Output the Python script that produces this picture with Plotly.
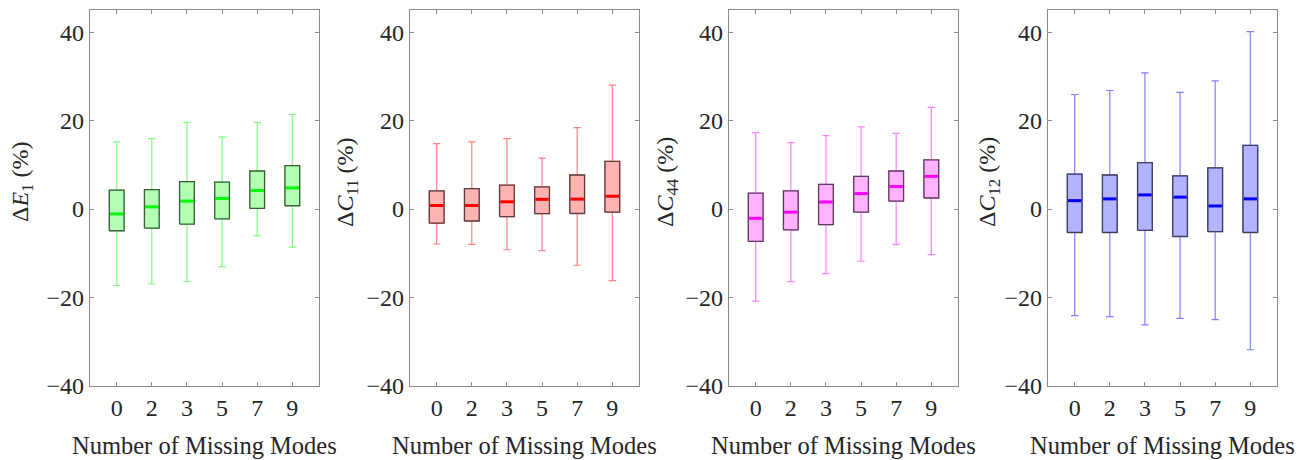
import plotly.graph_objects as go

# ---------------- data ----------------
modes = ["0", "2", "3", "5", "7", "9"]
positions = [1, 2, 3, 4, 5, 6]

e1_low = [-17.3, -16.9, -16.4, -13.0, -6.0, -8.6]
e1_q1 = [-4.9, -4.3, -3.4, -2.2, 0.15, 0.75]
e1_med = [-1.1, 0.5, 1.8, 2.4, 4.2, 4.8]
e1_q3 = [4.3, 4.4, 6.2, 6.1, 8.6, 9.8]
e1_up = [15.2, 15.9, 19.6, 16.3, 19.6, 21.4]

c11_low = [-7.9, -8.0, -9.2, -9.4, -12.7, -16.2]
c11_q1 = [-3.2, -2.7, -1.7, -1.05, -1.0, -0.7]
c11_med = [0.8, 0.8, 1.65, 2.2, 2.25, 2.9]
c11_q3 = [4.1, 4.6, 5.4, 5.0, 7.7, 10.8]
c11_up = [14.8, 15.2, 15.9, 11.5, 18.4, 28.0]

c44_low = [-20.8, -16.4, -14.6, -11.8, -8.0, -10.3]
c44_q1 = [-7.3, -4.7, -3.5, -0.7, 1.8, 2.5]
c44_med = [-2.1, -0.7, 1.6, 3.5, 5.1, 7.4]
c44_q3 = [3.6, 4.1, 5.6, 7.4, 8.6, 11.1]
c44_up = [17.3, 15.0, 16.6, 18.6, 17.1, 23.0]

c12_low = [-24.1, -24.3, -26.2, -24.7, -25.0, -31.8]
c12_q1 = [-5.3, -5.3, -4.8, -6.2, -5.1, -5.3]
c12_med = [1.9, 2.3, 3.2, 2.7, 0.7, 2.3]
c12_q3 = [7.9, 7.7, 10.5, 7.5, 9.3, 14.4]
c12_up = [25.9, 26.8, 30.8, 26.4, 29.0, 40.1]

titles = ["Δ<i>E</i><sub>1</sub> (%)", "Δ<i>C</i><sub>11</sub> (%)",
          "Δ<i>C</i><sub>44</sub> (%)", "Δ<i>C</i><sub>12</sub> (%)"]
xlabel = "Number of Missing Modes"
yticks = [-40, -20, 0, 20, 40]
yticktext = ["\u221240", "\u221220", "0", "20", "40"]

# ---------------- styles ----------------
W, H = 1313, 460
panels_px = [(90, 319), (410, 639), (729, 958), (1048, 1277)]
ytitle_px = [22, 347, 667, 989]
top_px, bot_px = 10, 386
fills = ["#b3ffb3", "#ffb3b3", "#ffb3ff", "#b3b3ff"]
whisk = ["#80ff80", "#ff8080", "#ff80ff", "#8080ff"]
meds = ["#00ff00", "#ff0000", "#ff00ff", "#0000ff"]
edges = ["#3f5a3f", "#5a3f3f", "#5a3f5a", "#3f3f5a"]
FONT = "Liberation Serif, Times New Roman, serif"
TXT = "#262626"
BOXW = 0.42

datasets = [
    (e1_low, e1_q1, e1_med, e1_q3, e1_up),
    (c11_low, c11_q1, c11_med, c11_q3, c11_up),
    (c44_low, c44_q1, c44_med, c44_q3, c44_up),
    (c12_low, c12_q1, c12_med, c12_q3, c12_up),
]

fig = go.Figure()
layout = dict(
    width=W, height=H, margin=dict(l=0, r=0, t=0, b=0, autoexpand=False),
    paper_bgcolor="white", plot_bgcolor="white",
    showlegend=False, boxmode="overlay",
    font=dict(family=FONT, size=24, color=TXT),
)
annotations = []
for i, (low, q1, med, q3, up) in enumerate(datasets):
    k = "" if i == 0 else str(i + 1)
    xa, ya = "x" + k, "y" + k
    # fill + whiskers
    fig.add_trace(go.Box(
        x=positions, q1=q1, median=med, q3=q3, lowerfence=low, upperfence=up,
        width=BOXW, whiskerwidth=0.5, fillcolor=fills[i],
        line=dict(color=whisk[i], width=1.2), boxpoints=False,
        hoverinfo="skip", xaxis=xa, yaxis=ya))
    # median line
    mx, my = [], []
    for p, m in zip(positions, med):
        mx += [p - BOXW / 2 + 0.02, p + BOXW / 2 - 0.02, None]
        my += [m, m, None]
    fig.add_trace(go.Scatter(x=mx, y=my, mode="lines",
                             line=dict(color=meds[i], width=3),
                             hoverinfo="skip", xaxis=xa, yaxis=ya))
    # dark box outline
    ox, oy = [], []
    for p, a, b in zip(positions, q1, q3):
        l, r = p - BOXW / 2, p + BOXW / 2
        ox += [l, r, r, l, l, None]
        oy += [a, a, b, b, a, None]
    fig.add_trace(go.Scatter(x=ox, y=oy, mode="lines",
                             line=dict(color=edges[i], width=1.3),
                             hoverinfo="skip", xaxis=xa, yaxis=ya))

    x0, x1 = panels_px[i]
    common = dict(showgrid=False, zeroline=False, showline=True, mirror="ticks",
                  linecolor="#8a8a8a", linewidth=1.2, ticks="inside", ticklen=4,
                  tickwidth=1, tickcolor="#8a8a8a", automargin=False,
                  tickfont=dict(family=FONT, size=24, color=TXT))
    layout["xaxis" + k] = dict(
        domain=[x0 / W, x1 / W], range=[0.24, 6.76], anchor=ya,
        tickvals=positions, ticktext=modes, ticklabelstandoff=0, **common)
    layout["yaxis" + k] = dict(
        domain=[1 - bot_px / H, 1 - top_px / H], range=[-40, 45], anchor=xa,
        tickvals=yticks, ticktext=yticktext, **common)
    annotations.append(dict(
        text=titles[i], xref="paper", yref="paper",
        x=ytitle_px[i] / W, y=1 - 182 / H, textangle=-90,
        xanchor="center", yanchor="middle", showarrow=False,
        font=dict(family=FONT, size=24, color=TXT)))
    annotations.append(dict(
        text=xlabel, xref="paper", yref="paper",
        x=(x0 + x1) / 2 / W, y=1 - 445 / H,
        xanchor="center", yanchor="middle", showarrow=False,
        font=dict(family=FONT, size=24.5, color=TXT)))

layout["annotations"] = annotations
fig.update_layout(**layout)
fig.write_html("out.html")
